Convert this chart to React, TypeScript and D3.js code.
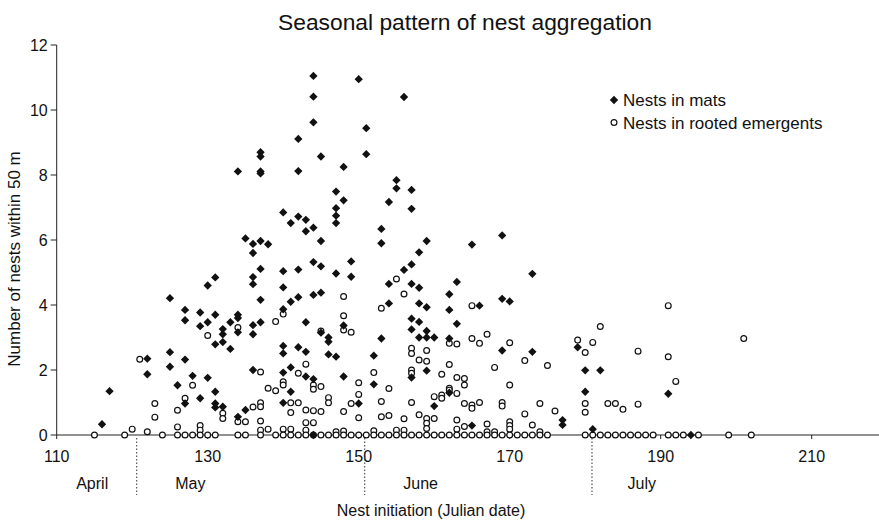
import React from "react";
import * as d3 from "d3";

// Nests in mats: [Julian day, number of nests within 50 m]
const matsDays: number[] = [
  116, 117, 122, 122,
  125, 125, 125, 126,
  127, 127, 127, 127, 128,
  129, 129, 129, 130, 130, 130,
  131, 131, 131, 131, 131, 131,
  132, 132, 132, 132, 133, 133,
  134, 134, 134, 134, 134, 135, 135,
  136, 136, 136, 136, 136, 136, 136,
  137, 137, 137, 137, 137, 137, 137, 137, 138,
  140, 140, 140, 140, 140, 140, 140, 140,
  141, 141, 141, 141,
  142, 142, 142, 142, 142, 142,
  143, 143, 143, 143, 143,
  144, 144, 144, 144, 144, 144, 144, 144,
  145, 145, 145, 145, 145,
  146, 146, 146,
  147, 147, 147, 147, 147, 147,
  148, 148, 148, 148, 149, 149, 150, 150, 151, 151,
  152, 152, 153, 153, 153, 154, 154, 154, 155, 155, 156, 156,
  157, 157, 157, 157, 157, 157, 157,
  158, 158, 158, 158, 158,
  159, 159, 159, 159, 159, 160, 160,
  162, 162, 162, 162, 163, 163, 165, 165, 166,
  169, 169, 169, 170, 173, 173, 177, 177, 179, 180, 180, 181, 182, 191, 194,
];
const matsValues: number[] = [
  0.33, 1.35, 2.35, 1.87,
  4.21, 2.55, 2.1, 1.53,
  3.85, 3.53, 2.32, 0.97, 1.82,
  3.77, 3.35, 1.13, 4.6, 3.47, 1.76,
  4.85, 3.7, 2.79, 1.33, 0.97, 0.85,
  3.26, 3.1, 2.86, 0.87, 3.47, 2.65,
  8.11, 3.7, 3.6, 3.16, 0.56, 6.05, 0.77,
  5.88, 5.6, 4.86, 4.64, 3.38, 3.1, 2.0,
  8.7, 8.57, 8.11, 8.05, 5.97, 5.11, 4.16, 3.47, 5.87,
  6.85, 5.04, 4.54, 3.87, 2.74, 2.51, 1.92, 0.99,
  6.52, 4.1, 2.08, 1.33,
  9.11, 8.12, 6.72, 5.09, 4.24, 2.7,
  6.62, 6.27, 3.47, 2.56, 1.8,
  11.05, 10.41, 9.62, 6.38, 5.32, 4.31, 1.72, 0,
  8.57, 5.97, 5.19, 4.38, 3.15,
  3.0, 2.87, 2.48,
  7.49, 6.98, 6.75, 6.52, 4.97, 2.41,
  8.25, 7.22, 3.37, 1.8, 5.34, 4.87, 10.95, 0.97, 9.44, 8.64,
  2.44, 1.56, 6.34, 5.9, 2.97, 7.17, 4.65, 4.05, 7.84, 7.59, 10.4, 5.08,
  7.54, 6.96, 5.25, 4.65, 3.58, 3.25, 1.77,
  5.62, 4.53, 4.05, 3.48, 3.0,
  5.97, 3.93, 3.2, 3.0, 1.98, 3.0, 0.89,
  4.33, 3.85, 2.97, 1.3, 4.71, 3.42, 5.86, 0.29, 3.98,
  6.14, 4.19, 2.6, 4.11, 4.96, 2.56, 0.46, 0.31, 2.7, 1.99, 1.33, 0.18, 1.99, 1.27, 0,
];

// Nests in rooted emergents: [Julian day, number of nests within 50 m]
const rootedDays: number[] = [
  115, 119, 120, 121, 122, 123, 123, 124,
  126, 126, 126, 127, 127, 128, 128,
  129, 129, 129, 130, 130, 131, 132, 132,
  134, 134, 134, 135, 135, 136,
  137, 137, 137, 137, 137, 137, 138, 138,
  139, 139, 139, 140, 140, 140, 140, 140,
  141, 141, 141, 141, 142, 142, 142,
  143, 143, 143, 143, 143, 144, 144, 144, 144, 144,
  145, 145, 145, 145, 146, 146, 146, 147, 147,
  148, 148, 148, 148, 148, 148, 149, 149, 149,
  150, 150, 150, 150, 151, 152, 152, 152,
  153, 153, 153, 153, 154, 154, 154, 155, 155, 155,
  156, 156, 156, 156, 157, 157, 157, 157, 157, 157,
  158, 158, 158, 159, 159, 159, 159, 159, 159,
  160, 160, 160, 161, 161, 161, 161,
  162, 162, 162, 162, 162, 163, 163, 163, 163, 163, 163,
  164, 164, 164, 164, 164, 165, 165, 165, 165, 165,
  166, 166, 166, 167, 167, 167, 167, 168, 168, 168,
  169, 169, 169, 170, 170, 170, 170, 170, 170, 171,
  172, 172, 172, 173, 173, 174, 174, 174, 175, 175, 176,
  179, 180, 180, 180, 180, 181, 181, 182, 182,
  183, 183, 184, 184, 185, 185, 186, 187, 187, 187, 188, 189,
  191, 191, 191, 192, 192, 193, 195, 199, 201, 202,
];
const rootedValues: number[] = [
  0, 0, 0.18, 2.33, 0.1, 0.97, 0.55, 0,
  0.76, 0.25, 0, 1.13, 0, 1.53, 0,
  0.29, 0.15, 0, 3.06, 0, 0, 0.67, 0.51,
  3.31, 0.41, 0, 0.41, 0, 0.86,
  1.94, 0.99, 0.87, 0.43, 0.15, 0, 1.44, 0.18,
  3.49, 1.36, 0, 3.72, 1.64, 1.54, 0.18, 0,
  0.99, 0.69, 0.18, 0, 1.9, 0.99, 0,
  2.18, 0.77, 0.38, 0.15, 0, 1.54, 1.41, 0.75, 0.38, 0,
  3.2, 1.49, 0.72, 0, 1.15, 0.99, 0, 0.1, 0,
  4.26, 3.67, 3.23, 0.72, 0.12, 0, 3.16, 0.97, 0,
  1.61, 1.25, 0.53, 0, 0, 1.92, 0.13, 0,
  3.9, 1.03, 0.56, 0, 1.43, 0.6, 0, 4.8, 0.15, 0,
  4.34, 0.5, 0.15, 0, 2.67, 2.51, 2.0, 1.9, 1.0, 0,
  2.31, 0.62, 0, 2.6, 2.27, 0.51, 0.36, 0.2, 0,
  1.18, 0.51, 0, 1.87, 1.23, 1.13, 0,
  2.82, 2.17, 1.44, 1.38, 0, 2.8, 1.77, 1.28, 0.46, 0.18, 0,
  1.74, 1.54, 0.97, 0.26, 0, 3.98, 2.97, 0.92, 0.82, 0,
  2.82, 1.0, 0, 3.1, 0.34, 0.1, 0, 2.08, 0.1, 0,
  1.0, 0.89, 0, 2.84, 1.54, 0.41, 0.29, 0.18, 0, 0,
  2.29, 0.65, 0, 0.31, 0, 0.97, 0.1, 0, 2.14, 0, 0.74,
  2.92, 2.54, 0.97, 0.7, 0, 2.85, 0, 3.34, 0,
  0.97, 0, 0.97, 0, 0.79, 0, 0, 2.58, 0.95, 0, 0, 0,
  3.98, 2.41, 0, 1.65, 0, 0, 0, 0, 2.97, 0,
];

const xTicks: number[] = [110, 130, 150, 170, 190, 210];
const yTicks: number[] = [0, 2, 4, 6, 8, 10, 12];
const monthBoundaries: number[] = [120.6, 150.8, 180.9];
const monthNames: string[] = ["April", "May", "June", "July"];
const monthLabelDays: number[] = [114.7, 127.7, 158.2, 187.5];
const legendLabels: string[] = ["Nests in mats", "Nests in rooted emergents"];

const W = 879;
const H = 523;
const FONT = "'Liberation Sans', Arial, Helvetica, sans-serif";

export default function App() {
  const x = d3.scaleLinear().domain([110, 220]).range([56.7, 887.2]);
  const y = d3.scaleLinear().domain([0, 12]).range([435, 45]);
  const diamond = d3.symbol().type(d3.symbolDiamond2).size(44)() as string;

  const mats = matsDays.map((d, i) => ({ d, v: matsValues[i] }));
  const rooted = rootedDays.map((d, i) => ({ d, v: rootedValues[i] }));
  const axisColor = "#222";

  return (
    <svg
      width={W}
      height={H}
      style={{ position: "absolute", left: 0, top: 0, background: "#fff" }}
      fontFamily={FONT}
    >
      <rect width={W} height={H} fill="#fff" />
      <text x={465} y={30} textAnchor="middle" fontSize={22.8} fill="#111">
        Seasonal pattern of nest aggregation
      </text>

      {/* y axis */}
      <line x1={x(110)} x2={x(110)} y1={y(0)} y2={y(12)} stroke={axisColor} strokeWidth={1} />
      {yTicks.map((t) => (
        <g key={"yt" + t}>
          <line x1={x(110) - 6} x2={x(110)} y1={y(t)} y2={y(t)} stroke={axisColor} />
          <text x={x(110) - 9} y={y(t) + 5.5} textAnchor="end" fontSize={16} fill="#111">
            {t}
          </text>
        </g>
      ))}
      <text
        transform={`translate(20,${259}) rotate(-90)`}
        textAnchor="middle"
        fontSize={17}
        fill="#111"
      >
        Number of nests within 50 m
      </text>

      {/* x axis */}
      <line x1={x(110)} x2={W} y1={y(0)} y2={y(0)} stroke={axisColor} strokeWidth={1} />
      {xTicks.map((t) => (
        <g key={"xt" + t}>
          <line x1={x(t)} x2={x(t)} y1={y(0)} y2={y(0) + 4} stroke={axisColor} />
          <text x={x(t)} y={462} textAnchor="middle" fontSize={16} fill="#111">
            {t}
          </text>
        </g>
      ))}
      {monthBoundaries.map((b) => (
        <line
          key={"mb" + b}
          x1={x(b)}
          x2={x(b)}
          y1={y(0) + 3}
          y2={495}
          stroke="#333"
          strokeWidth={1}
          strokeDasharray="1.5,2"
        />
      ))}
      {monthNames.map((m, i) => (
        <text key={m} x={x(monthLabelDays[i])} y={489} textAnchor="middle" fontSize={16} fill="#111">
          {m}
        </text>
      ))}
      <text x={431} y={516} textAnchor="middle" fontSize={16} fill="#111">
        Nest initiation (Julian date)
      </text>

      {/* points */}
      {rooted.map((p, i) => (
        <circle
          key={"r" + i}
          cx={x(p.d)}
          cy={y(p.v)}
          r={2.9}
          fill="#fff"
          stroke="#111"
          strokeWidth={1.2}
        />
      ))}
      {mats.map((p, i) => (
        <path key={"m" + i} d={diamond} transform={`translate(${x(p.d)},${y(p.v)})`} fill="#111" />
      ))}

      {/* legend */}
      <path d={diamond} transform="translate(614,100)" fill="#111" />
      <text x={623} y={106} fontSize={17} fill="#111">
        {legendLabels[0]}
      </text>
      <circle cx={614} cy={122.5} r={2.9} fill="#fff" stroke="#111" strokeWidth={1.2} />
      <text x={623} y={128.5} fontSize={17} fill="#111">
        {legendLabels[1]}
      </text>
    </svg>
  );
}
